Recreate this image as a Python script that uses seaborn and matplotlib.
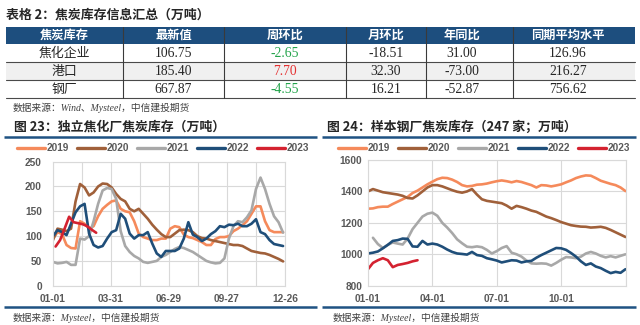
import matplotlib
matplotlib.use("Agg")
import matplotlib.pyplot as plt
from matplotlib.patches import Rectangle
from matplotlib.lines import Line2D
from matplotlib.font_manager import FontProperties
import seaborn as sns
import pandas as pd

# ---------------- data ----------------
table_title = "表格 2：焦炭库存信息汇总（万吨）"
table_header = ["焦炭库存", "最新值", "周环比", "月环比", "年同比", "同期平均水平"]
row_names = ["焦化企业", "港口", "钢厂"]
latest = [106.75, 185.40, 667.87]
wow = [-2.65, 7.70, -4.55]
mom = [-18.51, 32.30, 16.21]
yoy = [31.00, -73.00, -52.87]
avg_level = [126.96, 216.27, 756.62]

years = ["2019", "2020", "2021", "2022", "2023"]
year_colors = ["#F58A5B", "#A0603A", "#A8A8A8", "#1F4E79", "#D42230"]

# Chart 23: independent coking plants coke inventory (10k t), weekly
left_days = [7 * i for i in range(52)]
left_2019 = [95, 108, 104, 82, 76, 75, 130, 125, 115, 120, 140, 155, 163, 170, 172, 155,
             150, 148, 130, 105, 98, 95, 92, 92, 95, 95, 115, 120, 118, 103, 98, 96,
             92, 88, 82, 82, 94, 98, 98, 100, 110, 115, 122, 130, 145, 160, 160, 130,
             112, 108, 108, 108]
left_2020 = [92, 115, 113, 110, 115, 170, 205, 198, 182, 188, 200, 206, 205, 198, 185, 175,
             170, 155, 150, 155, 145, 135, 123, 113, 104, 98, 98, 105, 112, 113, 112, 108,
             100, 96, 95, 92, 90, 88, 86, 84, 82, 82, 80, 75, 70, 68, 66, 65,
             62, 58, 54, 49]
left_2021 = [48, 45, 46, 48, 42, 42, 95, 93, 100, 130, 165, 192, 197, 195, 175, 110,
             80, 68, 60, 55, 48, 46, 48, 50, 58, 62, 68, 74, 78, 76, 72, 68,
             62, 56, 50, 47, 45, 46, 55, 95, 120, 130, 128, 138, 152, 195, 218, 195,
             165, 140, 128, 107]
left_2022 = [100, 112, 108, 102, 125, 148, 160, 165, 105, 82, 77, 80, 95, 108, 112, 145,
             135, 105, 95, 102, 102, 108, 85, 65, 58, 70, 70, 70, 75, 95, 128, 103,
             98, 90, 95, 104, 110, 120, 118, 123, 122, 125, 120, 120, 125, 134, 108, 104,
             92, 84, 82, 80]
left_2023_days = [4, 11, 18, 25, 32, 39, 46, 53, 60, 67]
left_2023 = [79, 92, 115, 139, 128, 126, 124, 120, 113, 106.75]
left_ticks = [0, 45, 90, 135, 180, 225, 270, 315, 360]
left_ticklabels = ["01-01", "", "03-31", "", "06-29", "", "09-27", "", "12-26"]

# Chart 24: 247 sample steel mills coke inventory (10k t), weekly
right_weeks = list(range(53))
right_2019 = [1290, 1292, 1300, 1303, 1303, 1320, 1335, 1350, 1365, 1390, 1405, 1425, 1445,
              1462, 1478, 1487, 1485, 1475, 1460, 1440, 1432, 1435, 1443, 1445, 1450, 1458,
              1465, 1470, 1465, 1458, 1466, 1460, 1450, 1440, 1425, 1440, 1438, 1432, 1438,
              1445, 1458, 1470, 1485, 1495, 1502, 1500, 1485, 1468, 1458, 1448, 1440, 1425, 1402]
right_2020 = [1400, 1415, 1405, 1395, 1390, 1385, 1380, 1372, 1358, 1355, 1375, 1400, 1425,
              1440, 1440, 1432, 1420, 1408, 1398, 1392, 1400, 1415, 1380, 1350, 1340, 1335,
              1330, 1325, 1310, 1290, 1308, 1300, 1290, 1278, 1270, 1255, 1240, 1230, 1218,
              1205, 1195, 1185, 1180, 1176, 1175, 1170, 1172, 1175, 1168, 1155, 1140, 1125, 1110]
right_2021_weeks = list(range(1, 53))
right_2021 = [1105, 1065, 1040, 1060, 1075, 1068, 1062, 1100, 1160, 1200, 1240, 1258,
              1265, 1245, 1200, 1170, 1135, 1095, 1070, 1048, 1045, 1050, 1045, 1028, 1005,
              1020, 1040, 1052, 1010, 1000, 985, 960, 942, 940, 942, 940, 928, 945,
              965, 982, 980, 975, 985, 1005, 1015, 1005, 990, 980, 988, 980, 990, 1000]
right_2022 = [1005, 1010, 1018, 1038, 1060, 1085, 1090, 1100, 1098, 1050, 1048, 1085, 1062,
              1068, 1062, 1048, 1030, 1015, 1005, 1002, 998, 1015, 995, 990, 975, 968,
              960, 948, 955, 962, 960, 948, 955, 958, 978, 995, 1010, 1025, 1040,
              1038, 1028, 1008, 985, 955, 932, 942, 922, 912, 895, 880, 888, 882, 905]
right_2023_weeks = list(range(11))
right_2023 = [905, 945, 962, 975, 962, 918, 932, 938, 945, 955, 962]
right_ticks = [0, 13, 26, 39, 52]
right_ticklabels = ["01-01", "04-01", "07-01", "10-01", ""]

# ---------------- style ----------------
sns.set_style("white")
plt.rcParams["font.family"] = ["Noto Sans CJK SC", "DejaVu Sans"]

W, H = 640, 325
fig = plt.figure(figsize=(W / 100, H / 100), dpi=100)
fig.patch.set_facecolor("white")

RULE = "#1F5283"
HEAD = "#1D4E7E"
TXT = "#262626"
TICK = "#595959"
GRID = "#D9D9D9"
serif = ["Liberation Serif", "Noto Sans CJK SC"]
cjk = ["Noto Sans CJK SC", "DejaVu Sans"]

ov = fig.add_axes([0, 0, 1, 1])
ov.set_xlim(0, W)
ov.set_ylim(H, 0)
ov.axis("off")

# ---------------- table ----------------
ov.text(6, 15, table_title, family=cjk, weight="bold", fontsize=9.3, color=TXT,
        va="center", ha="left")
x0, x1 = 6, 635
col_edges = [123, 224, 346, 426, 513]
col_centers = [64.5, 173.5, 285, 386, 462, 568]
row_tops = [27, 44, 62, 80, 98]
ov.add_patch(Rectangle((x0, row_tops[0]), x1 - x0, row_tops[1] - row_tops[0],
                       facecolor=HEAD, edgecolor="none"))
ov.add_patch(Rectangle((x0, row_tops[2]), x1 - x0, row_tops[3] - row_tops[2],
                       facecolor="#F0F0F0", edgecolor="none"))
for y in row_tops[2:]:
    ov.plot([x0, x1], [y, y], color="#4a4a4a", lw=0.8)
for xe in col_edges:
    ov.plot([xe, xe], [row_tops[0], row_tops[-1]], color="#3a3a3a", lw=0.8)
for cx, h in zip(col_centers, table_header):
    ov.text(cx, (row_tops[0] + row_tops[1]) / 2, h, family=cjk, weight="bold",
            fontsize=8.8, color="white", ha="center", va="center")
for r in range(3):
    yc = (row_tops[r + 1] + row_tops[r + 2]) / 2 + 0.5
    ov.text(col_centers[0], yc, row_names[r], family=cjk, fontsize=9.3, color=TXT,
            ha="center", va="center")
    vals = [latest[r], wow[r], mom[r], yoy[r], avg_level[r]]
    for c, v in enumerate(vals):
        color = TXT
        if c == 1:
            color = "#22A34A" if v < 0 else "#E53030"
        ov.text(col_centers[c + 1], yc, f"{v:.2f}", family=serif, fontsize=9.8,
                color=color, ha="center", va="center")
ov.text(13, 108, "数据来源：Wind、Mysteel，中信建投期货", family=serif, style="italic",
        fontsize=7, color="#404040", ha="left", va="center")

# ---------------- chart frames ----------------
ov.text(14, 126.5, "图 23：独立焦化厂焦炭库存（万吨）", family=cjk, weight="bold",
        fontsize=9.3, color=TXT, ha="left", va="center")
ov.text(327, 126.5, "图 24：样本钢厂焦炭库存（247 家；万吨）", family=cjk, weight="bold",
        fontsize=9.3, color=TXT, ha="left", va="center")
for (a, b) in [(4, 317), (322, 636)]:
    ov.plot([a, b], [137, 137], color=RULE, lw=1.8, solid_capstyle="butt")
    ov.plot([a, b], [306.5, 306.5], color=RULE, lw=1.8, solid_capstyle="butt")
ov.text(13, 318, "数据来源：Mysteel，中信建投期货", family=serif, style="italic",
        fontsize=7, color="#404040", ha="left", va="center")
ov.text(333, 318, "数据来源：Mysteel，中信建投期货", family=serif, style="italic",
        fontsize=7, color="#404040", ha="left", va="center")

palette = dict(zip(years, year_colors))


def long_df(xs_list, vals_list, xname):
    parts = []
    for yr, xs, vs in zip(years, xs_list, vals_list):
        parts.append(pd.DataFrame({xname: xs, "value": vs, "year": yr}))
    return pd.concat(parts, ignore_index=True)


def style_axes(ax, ypad):
    ax.set_facecolor("none")
    ax.grid(True, color=GRID, lw=0.8)
    ax.set_axisbelow(True)
    for s in ax.spines.values():
        s.set_color(GRID)
        s.set_linewidth(0.8)
    ax.tick_params(axis="both", length=0, labelsize=7.3, colors=TICK)
    ax.tick_params(axis="y", pad=ypad)
    ax.tick_params(axis="x", pad=6)
    for lab in ax.get_xticklabels() + ax.get_yticklabels():
        lab.set_fontfamily("Liberation Sans")
        lab.set_fontweight("bold")
    ax.set_xlabel("")
    ax.set_ylabel("")


def add_legend(cx, cy):
    handles = [Line2D([0], [0], color=c, lw=2.4) for c in year_colors]
    leg = fig.legend(handles, years, loc="center", bbox_to_anchor=(cx / W, 1 - cy / H),
                     bbox_transform=fig.transFigure, ncol=5, frameon=False,
                     handlelength=2.8, handletextpad=0.2, columnspacing=0.75,
                     prop=FontProperties(family="Liberation Sans", weight="bold", size=7.2))
    for t in leg.get_texts():
        t.set_color(TICK)


# left chart
axL = fig.add_axes([53 / W, 1 - 285.7 / H, (285 - 53) / W, (285.7 - 161.7) / H])
dfL = long_df([left_days, left_days, left_days, left_days, left_2023_days],
              [left_2019, left_2020, left_2021, left_2022, left_2023], "day")
sns.lineplot(data=dfL, x="day", y="value", hue="year", hue_order=years, palette=palette,
             linewidth=1.9, estimator=None, sort=False, legend=False, ax=axL)
axL.set_xlim(0, 360)
axL.set_ylim(0, 250)
axL.set_yticks([0, 50, 100, 150, 200, 250])
axL.set_xticks(left_ticks)
axL.set_xticklabels(left_ticklabels)
style_axes(axL, ypad=8)
add_legend(163, 148)

# right chart
axR = fig.add_axes([368 / W, 1 - 285.7 / H, (625.5 - 368) / W, (285.7 - 160) / H])
dfR = long_df([right_weeks, right_weeks, right_2021_weeks, right_weeks, right_2023_weeks],
              [right_2019, right_2020, right_2021, right_2022, right_2023], "week")
sns.lineplot(data=dfR, x="week", y="value", hue="year", hue_order=years, palette=palette,
             linewidth=1.9, estimator=None, sort=False, legend=False, ax=axR)
axR.set_xlim(0, 52)
axR.set_ylim(800, 1600)
axR.set_yticks([800, 1000, 1200, 1400, 1600])
axR.set_xticks(right_ticks)
axR.set_xticklabels(right_ticklabels)
style_axes(axR, ypad=4)
add_legend(484, 148)

fig.savefig("out.png", dpi=100, facecolor="white")
